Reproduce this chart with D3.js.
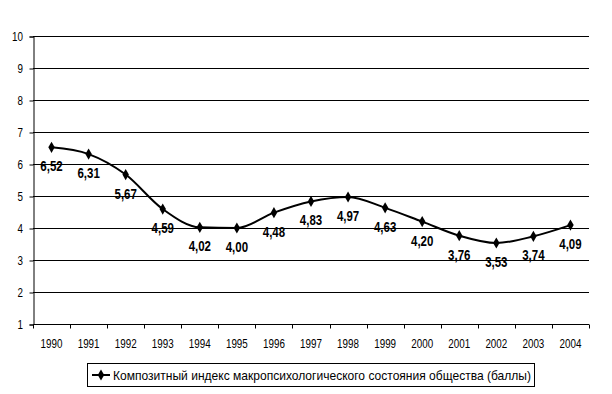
<!DOCTYPE html>
<html>
<head>
<meta charset="utf-8">
<script src="https://cdn.jsdelivr.net/npm/d3@7"></script>
<style>
  body { margin: 0; background: #fff; }
  text { font-family: "Liberation Sans", Arial, sans-serif; }
</style>
</head>
<body>
<svg id="chart" width="612" height="394"></svg>
<script>
const years = ["1990", "1991", "1992", "1993", "1994", "1995", "1996", "1997",
    "1998", "1999", "2000", "2001", "2002", "2003", "2004"];
const values = [6.52, 6.31, 5.67, 4.59, 4.02, 4.00, 4.48, 4.83, 4.97, 4.63, 4.20, 3.76, 3.53, 3.74, 4.09];
const yTicks = [1, 2, 3, 4, 5, 6, 7, 8, 9, 10];
const seriesName = "Композитный индекс макропсихологического состояния общества (баллы)";

const svg = d3.select("#chart");
const plotLeft = 33, plotRight = 589, plotTop = 36, plotBottom = 324;
const narrow = 0.82; // squeeze text horizontally like the original's narrow font

const x = d3.scaleBand().domain(years).range([plotLeft, plotRight]);
const y = d3.scaleLinear().domain([1, 10]).range([plotBottom, plotTop]);

const place = (px, py) => `translate(${px},${py}) scale(${narrow},1)`;

// gridlines
svg.append("g")
    .selectAll("line")
    .data(yTicks.filter((d) => d > 1))
    .enter()
    .append("line")
    .attr("x1", plotLeft)
    .attr("x2", plotRight)
    .attr("y1", (d) => Math.round(y(d)) + 0.5)
    .attr("y2", (d) => Math.round(y(d)) + 0.5)
    .attr("stroke", "#000");

// y axis
const yAxis = svg.append("g")
    .attr("transform", `translate(${plotLeft + 0.5},0.5)`)
    .call(d3.axisLeft(y).tickValues(yTicks).tickSize(4).tickFormat(""));
yAxis.selectAll("path, line").attr("stroke", "#000");
svg.append("g")
    .selectAll("text")
    .data(yTicks)
    .enter()
    .append("text")
    .attr("transform", (d) => place(23, Math.round(y(d)) + 5))
    .attr("text-anchor", "end")
    .attr("font-size", 12)
    .text((d) => d);

// x axis with tick marks at category boundaries
const xAxis = svg.append("g").attr("transform", `translate(0,${plotBottom + 0.5})`);
xAxis.append("line").attr("x1", plotLeft).attr("x2", plotRight).attr("stroke", "#000");
xAxis.selectAll(".tk")
    .data(years.concat(["end"]))
    .enter()
    .append("line")
    .attr("x1", (d, i) => Math.round(plotLeft + i * x.step()) + 0.5)
    .attr("x2", (d, i) => Math.round(plotLeft + i * x.step()) + 0.5)
    .attr("y1", 0)
    .attr("y2", 4)
    .attr("stroke", "#000");
xAxis.selectAll("text")
    .data(years)
    .enter()
    .append("text")
    .attr("transform", (d) => place(x(d) + x.bandwidth() / 2, 23))
    .attr("text-anchor", "middle")
    .attr("font-size", 12)
    .text((d) => d);

// line
const pts = years.map((d, i) => [x(d) + x.bandwidth() / 2, y(values[i])]);
svg.append("path")
    .datum(pts)
    .attr("fill", "none")
    .attr("stroke", "#000")
    .attr("stroke-width", 2)
    .attr("d", d3.line().curve(d3.curveMonotoneX));

const diamond = d3.symbol().type(d3.symbolDiamond).size(36);
svg.append("g")
    .selectAll("path")
    .data(pts)
    .enter()
    .append("path")
    .attr("transform", (d) => `translate(${d[0]},${d[1]})`)
    .attr("d", diamond)
    .attr("fill", "#000");

// value labels
const fmt = (v) => v.toFixed(2).replace(".", ",");
svg.append("g")
    .selectAll("text")
    .data(values)
    .enter()
    .append("text")
    .attr("transform", (d, i) => place(pts[i][0], pts[i][1] + 24))
    .attr("text-anchor", "middle")
    .attr("font-size", 14)
    .attr("font-weight", "bold")
    .text(fmt);

// legend
const legend = svg.append("g");
legend.append("rect")
    .attr("x", 87.5).attr("y", 363.5).attr("width", 447).attr("height", 23)
    .attr("fill", "#fff").attr("stroke", "#000");
legend.append("line")
    .attr("x1", 92).attr("x2", 110).attr("y1", 375).attr("y2", 375)
    .attr("stroke", "#000").attr("stroke-width", 2);
legend.append("path")
    .attr("transform", "translate(101,375)")
    .attr("d", diamond).attr("fill", "#000");
legend.append("text")
    .attr("x", 113).attr("y", 380)
    .attr("font-size", 13)
    .attr("textLength", 418)
    .attr("lengthAdjust", "spacingAndGlyphs")
    .text(seriesName);
</script>
</body>
</html>
